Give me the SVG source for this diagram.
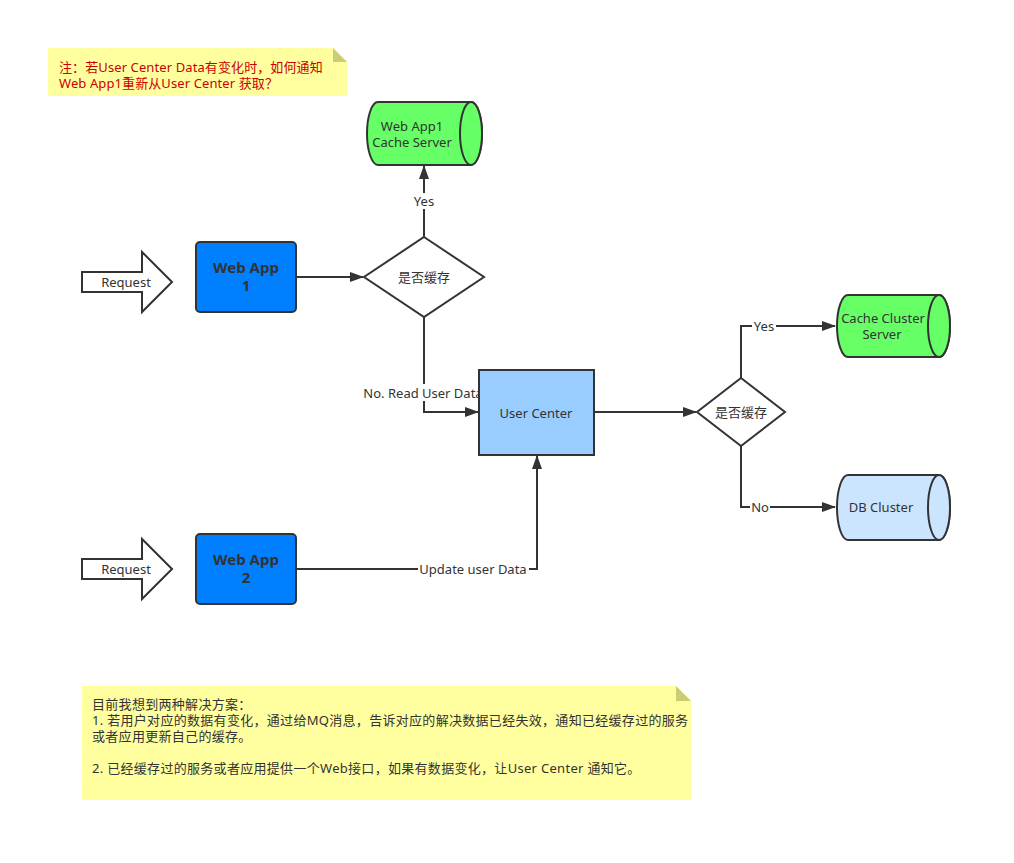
<svg xmlns="http://www.w3.org/2000/svg" width="1014" height="863" viewBox="0 0 1014 863">
<defs>
<marker id="ah" markerWidth="14" markerHeight="10" refX="13" refY="5" orient="auto" markerUnits="userSpaceOnUse">
<path d="M0,0 L14,5 L0,10 Z" fill="#333"/>
</marker>
</defs>
<style>
text{font-family:"Noto Sans","Noto Sans CJK SC",sans-serif;font-size:13px;fill:#333}
.n1{letter-spacing:0.1px}
.n2{letter-spacing:0.3px}
.ln{fill:none;stroke:#333;stroke-width:2}
.nd{stroke:#333;stroke-width:2}
.bold{font-weight:bold;font-size:15px}
.red{fill:#cc0000}
.lbl{fill:#fff}
</style>
<rect width="1014" height="863" fill="#fff"/>

<g id="note1">
<path d="M48,48 H333 L347,62 V96 H48 Z" fill="#ffffa0"/>
<path d="M333,48 L347,62 H333 Z" fill="#cccc70"/>
<text class="red n1" x="59" y="72">注：若User Center Data有变化时，如何通知</text>
<text class="red n1" x="59" y="88">Web App1重新从User Center 获取？</text>
</g>

<g id="connectors">
<path class="ln" d="M424,237 V166" marker-end="url(#ah)"/>
<rect class="lbl" x="411" y="193" width="26" height="16"/>
<text x="424" y="206" text-anchor="middle">Yes</text>

<path class="ln" d="M296,277 H363" marker-end="url(#ah)"/>

<path class="ln" d="M424,317 V412 H478" marker-end="url(#ah)"/>
<rect class="lbl" x="361" y="384" width="125" height="17"/>
<text x="423" y="398" text-anchor="middle">No. Read User Data</text>

<path class="ln" d="M594,412 H696" marker-end="url(#ah)"/>

<path class="ln" d="M741,378 V326 H835" marker-end="url(#ah)"/>
<rect class="lbl" x="752" y="318" width="24" height="16"/>
<text x="764" y="331" text-anchor="middle">Yes</text>

<path class="ln" d="M741,446 V507 H835" marker-end="url(#ah)"/>
<rect class="lbl" x="750" y="499" width="20" height="16"/>
<text x="760" y="512" text-anchor="middle">No</text>

<path class="ln" d="M296,569 H537 V456" marker-end="url(#ah)"/>
<rect class="lbl" x="418" y="561" width="111" height="16"/>
<text x="473" y="574" text-anchor="middle">Update user Data</text>
</g>

<g id="cache1">
<path class="nd" d="M378,102 H471 A11,31.5 0 0 1 471,165 H378 A11,31.5 0 0 1 378,102 Z" fill="#66ff66"/>
<ellipse class="nd" cx="471" cy="133.5" rx="11" ry="31.5" fill="#66ff66"/>
<text x="412" y="131" text-anchor="middle">Web App1</text>
<text x="412" y="147" text-anchor="middle">Cache Server</text>
</g>

<g id="diamond1">
<path class="nd" d="M424,237 L484,277 L424,317 L364,277 Z" fill="#fff"/>
<text x="424" y="282" text-anchor="middle">是否缓存</text>
</g>

<g id="request1">
<path class="nd" d="M82,272 H142 V252 L172,282 L142,312 V292 H82 Z" fill="#fff"/>
<text x="126" y="287" text-anchor="middle">Request</text>
</g>

<g id="webapp1">
<rect class="nd" x="196" y="242" width="100" height="70" rx="4" fill="#007fff"/>
<text class="bold" x="246" y="273" text-anchor="middle">Web App</text>
<text class="bold" x="246" y="291" text-anchor="middle">1</text>
</g>

<g id="usercenter">
<rect class="nd" x="479" y="370" width="115" height="85" fill="#99ccff"/>
<text x="536" y="418" text-anchor="middle">User Center</text>
</g>

<g id="diamond2">
<path class="nd" d="M741,378 L785,412 L741,446 L697,412 Z" fill="#fff"/>
<text x="741" y="417" text-anchor="middle">是否缓存</text>
</g>

<g id="cachecluster">
<path class="nd" d="M848,295 H939 A11,31 0 0 1 939,357 H848 A11,31 0 0 1 848,295 Z" fill="#66ff66"/>
<ellipse class="nd" cx="939" cy="326" rx="11" ry="31" fill="#66ff66"/>
<text x="883" y="323" text-anchor="middle">Cache Cluster</text>
<text x="882" y="339" text-anchor="middle">Server</text>
</g>

<g id="dbcluster">
<path class="nd" d="M848,475 H939 A11,32.5 0 0 1 939,540 H848 A11,32.5 0 0 1 848,475 Z" fill="#cce5ff"/>
<ellipse class="nd" cx="939" cy="507.5" rx="11" ry="32.5" fill="#cce5ff"/>
<text x="881" y="512" text-anchor="middle">DB Cluster</text>
</g>

<g id="request2">
<path class="nd" d="M82,559 H142 V539 L172,569 L142,599 V579 H82 Z" fill="#fff"/>
<text x="126" y="574" text-anchor="middle">Request</text>
</g>

<g id="webapp2">
<rect class="nd" x="196" y="534" width="100" height="70" rx="4" fill="#007fff"/>
<text class="bold" x="246" y="565" text-anchor="middle">Web App</text>
<text class="bold" x="246" y="583" text-anchor="middle">2</text>
</g>

<g id="note2">
<path d="M82,686 H676 L691,701 V800 H82 Z" fill="#ffffa0"/>
<path d="M676,686 L691,701 H676 Z" fill="#cccc70"/>
<text class="n2" x="92" y="709">目前我想到两种解决方案：</text>
<text class="n2" x="92" y="725">1. 若用户对应的数据有变化，通过给MQ消息，告诉对应的解决数据已经失效，通知已经缓存过的服务</text>
<text class="n2" x="92" y="741">或者应用更新自己的缓存。</text>
<text class="n2" x="92" y="773">2. 已经缓存过的服务或者应用提供一个Web接口，如果有数据变化，让User Center 通知它。</text>
</g>
</svg>
